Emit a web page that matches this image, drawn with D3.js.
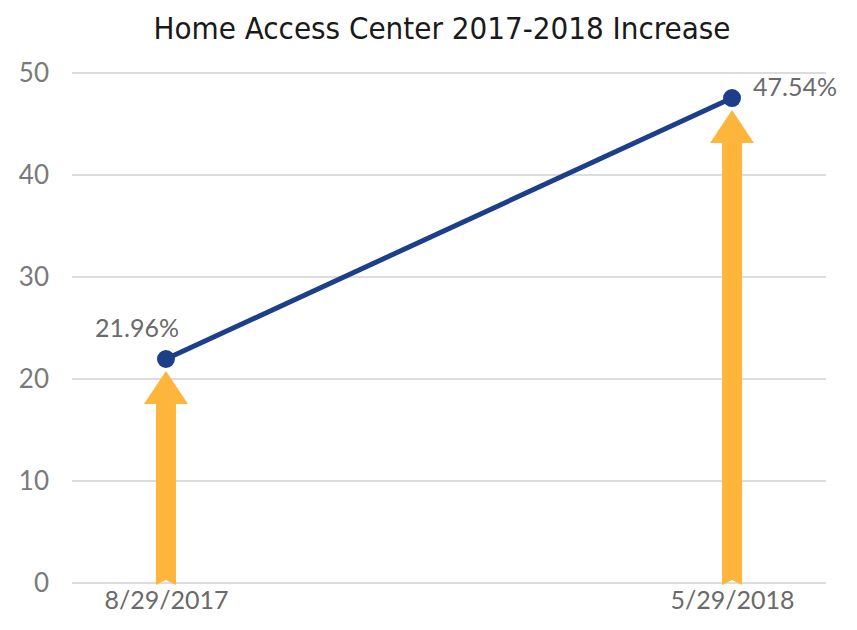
<!DOCTYPE html>
<html>
<head>
<meta charset="utf-8">
<script src="https://cdn.jsdelivr.net/npm/d3@7"></script>
<style>
  body { margin: 0; background: #fff; }
</style>
</head>
<body>
<div id="chart"></div>
<script>
// Data
var dates = ["8/29/2017", "5/29/2018"];
var values = [21.96, 47.54];
var valueLabels = ["21.96%", "47.54%"];
var yTicks = [0, 10, 20, 30, 40, 50];

var w = 857;
var h = 630;
var margin = { top: 73, right: 31, bottom: 47, left: 72 };
var thinFont = "Lato, sans-serif";

var svg = d3.select("#chart")
    .append("svg")
    .attr("width", w)
    .attr("height", h);

var xScale = d3.scalePoint()
    .domain(dates)
    .range([margin.left, w - margin.right])
    .padding(0.166);

var yScale = d3.scaleLinear()
    .domain([0, 50])
    .range([h - margin.bottom, margin.top]);

// Title
svg.append("text")
    .attr("x", 442)
    .attr("y", 39)
    .attr("text-anchor", "middle")
    .attr("font-family", "'DejaVu Sans Condensed', 'DejaVu Sans', sans-serif")
    .attr("font-size", 31)
    .attr("fill", "#1a1a1a")
    .text("Home Access Center 2017-2018 Increase");

// Gridlines
svg.append("g")
    .selectAll("line")
    .data(yTicks)
    .enter()
    .append("line")
    .attr("x1", margin.left)
    .attr("x2", w - margin.right)
    .attr("y1", function(d) { return yScale(d); })
    .attr("y2", function(d) { return yScale(d); })
    .attr("stroke", "#dcdcdc")
    .attr("stroke-width", 2);

// Y axis labels
var yAxis = d3.axisLeft(yScale)
    .tickValues(yTicks)
    .tickSize(0)
    .tickPadding(0);

var yg = svg.append("g")
    .attr("transform", "translate(49,0)")
    .call(yAxis);
yg.select(".domain").remove();
yg.selectAll("text")
    .attr("font-family", thinFont)
    .attr("font-size", 26)
    .attr("fill", "#7a7a7a");

// X axis labels
var xAxis = d3.axisBottom(xScale)
    .tickSize(0)
    .tickPadding(0);

var xg = svg.append("g")
    .attr("transform", "translate(0," + (h - 39) + ")")
    .call(xAxis);
xg.select(".domain").remove();
xg.selectAll("text")
    .attr("font-family", thinFont)
    .attr("font-size", 25)
    .attr("fill", "#6a6a6a")
    .attr("dy", "0.71em");

// Orange arrows from the baseline up to each point
var shaft = 10, head = 22, headH = 33, gap = 12, notch = 5;
function arrowPath(d, i) {
    var x = xScale(dates[i]);
    var top = yScale(d) + gap;
    var base = yScale(0) + 2;
    return "M" + (x - shaft) + "," + base +
        "L" + (x - shaft) + "," + (top + headH) +
        "L" + (x - head) + "," + (top + headH) +
        "L" + x + "," + top +
        "L" + (x + head) + "," + (top + headH) +
        "L" + (x + shaft) + "," + (top + headH) +
        "L" + (x + shaft) + "," + base +
        "L" + x + "," + (base - notch) + "Z";
}

svg.append("g")
    .selectAll("path")
    .data(values)
    .enter()
    .append("path")
    .attr("d", arrowPath)
    .attr("fill", "#fdb53c");

// Line
var line = d3.line()
    .x(function(d, i) { return xScale(dates[i]); })
    .y(function(d) { return yScale(d); });

svg.append("path")
    .datum(values)
    .attr("d", line)
    .attr("fill", "none")
    .attr("stroke", "#1d3f8a")
    .attr("stroke-width", 5);

svg.append("g")
    .selectAll("circle")
    .data(values)
    .enter()
    .append("circle")
    .attr("cx", function(d, i) { return xScale(dates[i]); })
    .attr("cy", function(d) { return yScale(d); })
    .attr("r", 9)
    .attr("fill", "#1d3f8a");

// Value labels
var labelOffset = [[-29, -22], [63, -2]];
svg.append("g")
    .selectAll("text")
    .data(valueLabels)
    .enter()
    .append("text")
    .attr("x", function(d, i) { return xScale(dates[i]) + labelOffset[i][0]; })
    .attr("y", function(d, i) { return yScale(values[i]) + labelOffset[i][1]; })
    .attr("text-anchor", "middle")
    .attr("font-family", thinFont)
    .attr("font-size", 25)
    .attr("fill", "#6a6a6a")
    .text(function(d) { return d; });
</script>
</body>
</html>
